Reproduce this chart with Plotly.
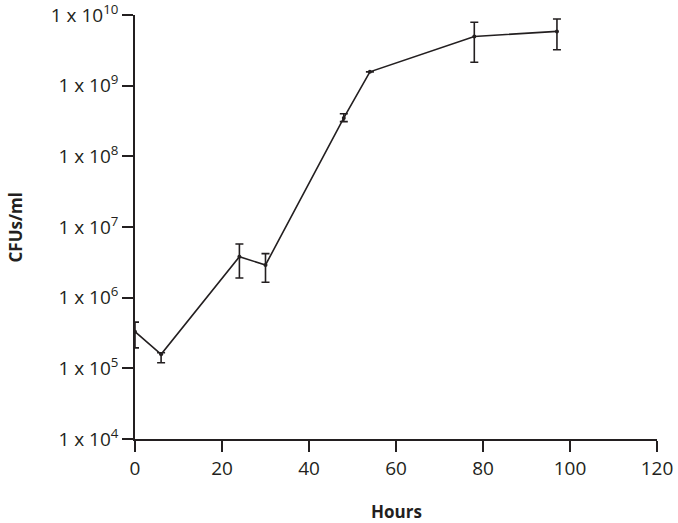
import plotly.graph_objects as go

INK = "#231f20"

# growth curve
hours = [0, 6, 24, 30, 48, 54, 78, 97]
cfu = [3.3e5, 1.58e5, 3.8e6, 2.9e6, 3.5e8, 1.57e9, 4.97e9, 5.86e9]
cfu_high = [4.5e5, 1.66e5, 5.75e6, 4.2e6, 4.0e8, 1.57e9, 7.9e9, 8.8e9]
cfu_low = [1.95e5, 1.2e5, 1.9e6, 1.65e6, 3.1e8, 1.57e9, 2.14e9, 3.22e9]

y_ticks = [1e4, 1e5, 1e6, 1e7, 1e8, 1e9, 1e10]
y_tick_text = ["1 x 10<sup>%d</sup>" % p for p in range(4, 11)]
x_ticks = [0, 20, 40, 60, 80, 100, 120]

err_plus = [h - v for h, v in zip(cfu_high, cfu)]
err_minus = [v - l for v, l in zip(cfu, cfu_low)]

fig = go.Figure()
fig.add_trace(go.Scatter(
    x=hours,
    y=cfu,
    mode="lines+markers",
    line=dict(color=INK, width=1.6),
    marker=dict(color=INK, size=4),
    error_y=dict(
        type="data",
        symmetric=False,
        array=err_plus,
        arrayminus=err_minus,
        color=INK,
        thickness=1.6,
        width=4,
    ),
    showlegend=False,
))

axis_style = dict(
    showline=True,
    linecolor=INK,
    linewidth=1.5,
    ticks="outside",
    ticklen=11,
    tickwidth=1.5,
    tickcolor=INK,
    showgrid=False,
    zeroline=False,
    automargin=False,
    ticklabeloverflow="allow",
    tickfont=dict(size=19, color=INK),
)

fig.update_xaxes(range=[0, 120.001], tickvals=x_ticks, **axis_style)
# a hair past 10 so the top tick is kept
fig.update_yaxes(type="log", range=[3.9999, 10.0001], tickvals=y_ticks,
                 ticktext=y_tick_text, **axis_style)

fig.update_layout(
    width=678,
    height=523,
    margin=dict(l=135, r=21, t=15, b=84),
    plot_bgcolor="white",
    paper_bgcolor="white",
    font=dict(family="Open Sans", color=INK),
    annotations=[
        dict(text="<b>CFUs/ml</b>", xref="paper", yref="paper",
             x=-0.229, y=0.5, textangle=-90, showarrow=False,
             xanchor="center", yanchor="middle", font=dict(size=17)),
        dict(text="<b>Hours</b>", xref="paper", yref="paper",
             x=0.5, y=-0.172, showarrow=False,
             xanchor="center", yanchor="middle", font=dict(size=17)),
    ],
)

# page body has a default 8px margin, drop it so the chart sits at 0,0
fig.write_html("out.html", config={"displayModeBar": False},
               post_script="document.body.style.margin='0';")
